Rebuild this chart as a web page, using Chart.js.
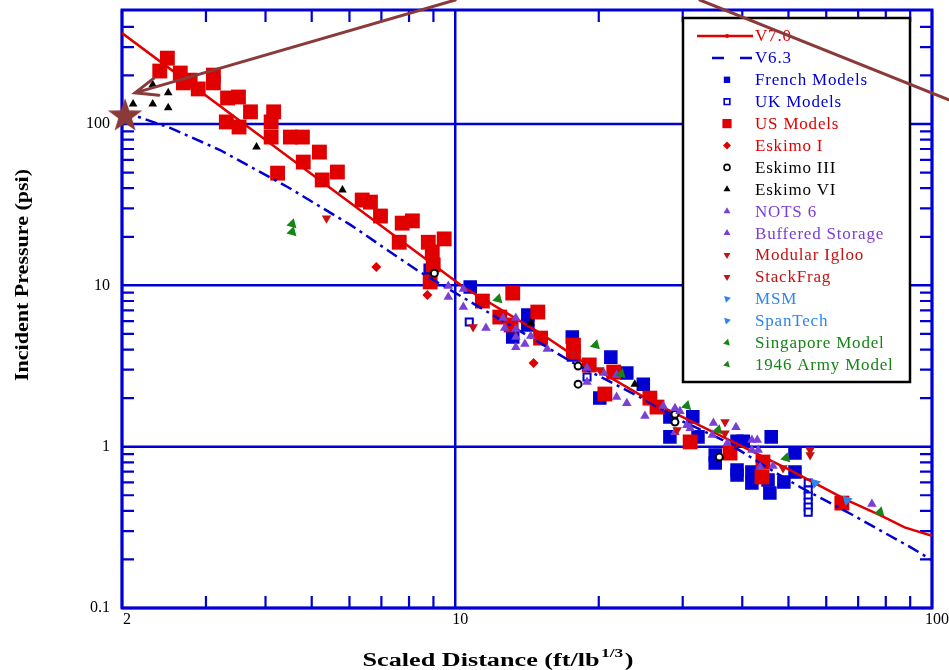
<!DOCTYPE html>
<html>
<head>
<meta charset="utf-8">
<script src="https://cdn.jsdelivr.net/npm/chart.js@4.4.1/dist/chart.umd.min.js"></script>
<style>
  html, body { margin: 0; padding: 0; background: #fff; }
  #wrap { width: 949px; height: 670px; }
</style>
</head>
<body>
<div id="wrap"><canvas id="chart" width="949" height="670"></canvas></div>
<script>
/* Axis labels */
const xLabels = [2, 10, 100];
const yLabels = [0.1, 1, 10, 100];
const xMinor = [3, 4, 5, 6, 7, 8, 9, 20, 30, 40, 50, 60, 70, 80, 90];
const yMinor = [0.2, 0.3, 0.4, 0.5, 0.6, 0.7, 0.8, 0.9, 2, 3, 4, 5, 6, 7, 8, 9,
                20, 30, 40, 50, 60, 70, 80, 90, 200, 300, 400, 500];

/* Curves [scaled distance, psi] */
const v70Line = [[2, 366], [3.59, 101], [6.03, 32.4], [10.4, 9.77], [15.07, 5.06], [18.3, 3.44],
  [26.1, 1.87], [35.2, 1.21], [50.4, 0.716], [66.3, 0.467], [77.8, 0.377], [87.6, 0.316], [100, 0.28]];
const v63Line = [[2.0, 120], [2.53, 94.4], [3.21, 69.0], [4.45, 40.7], [6.03, 23.7], [8.32, 12.4],
  [10.6, 8.11], [13.9, 5.06], [17.7, 3.30], [24.4, 2.03], [29.6, 1.46], [36.4, 1.10], [47.2, 0.685],
  [52.9, 0.562], [68.2, 0.377], [89.9, 0.239], [100, 0.198]];

/* Test data */
const frenchModels = [[8.86, 12.4], [10.75, 9.76], [14.2, 6.55], [14.2, 5.68], [13.2, 4.78], [17.6, 4.78],
  [17.7, 3.70], [21.2, 3.59], [22.9, 2.86], [24.8, 2.44], [20.1, 2.00], [28.2, 1.53], [31.5, 1.53],
  [28.2, 1.15], [32.3, 1.15], [39.0, 1.08], [40.2, 1.08], [46.0, 1.15], [35.1, 0.887], [35.1, 0.791],
  [39.0, 0.716], [39.0, 0.667], [41.9, 0.696], [41.9, 0.595], [45.3, 0.621], [45.7, 0.516],
  [48.9, 0.603], [51.6, 0.696], [51.6, 0.913]];
const ukModels = [[10.7, 5.92], [18.9, 2.70], [55.0, 0.595], [55.0, 0.538], [55.0, 0.494],
  [55.0, 0.453], [55.0, 0.422], [55.0, 0.393]];
const usModels = [[2.49, 256], [2.40, 213], [2.65, 207], [2.69, 180], [2.78, 187], [2.89, 165],
  [3.11, 201], [3.11, 180], [3.33, 145], [3.51, 147], [3.72, 119], [4.16, 119], [4.11, 103],
  [3.31, 103], [3.52, 95.8], [4.11, 83], [4.51, 83], [4.78, 83], [5.19, 67], [4.80, 58.1],
  [4.24, 49.6], [5.26, 45], [5.66, 50.4], [6.38, 33.8], [6.64, 32.8], [6.97, 26.9], [7.74, 24.3],
  [8.13, 25.1], [7.63, 18.5], [8.78, 18.5], [9.48, 19.4], [8.95, 16.1], [8.99, 13.4], [8.86, 10.5],
  [13.2, 8.96], [11.4, 7.99], [12.4, 6.36], [14.9, 6.83], [13.1, 5.68], [15.1, 4.71], [17.7, 4.26],
  [17.7, 3.86], [19.1, 3.21], [21.5, 2.90], [20.6, 2.12], [25.6, 2.00], [26.5, 1.76], [31.1, 1.07],
  [37.7, 0.913], [44.2, 0.803], [44.0, 0.649], [64.7, 0.447]];
const eskimo1 = [[6.83, 13.0], [8.74, 8.71], [14.6, 3.30]];
const eskimo3 = [[9.04, 11.9], [18.1, 3.16], [18.1, 2.44], [28.9, 1.59], [28.9, 1.42], [35.8, 0.862]];
const eskimo6 = [[2.11, 133], [2.32, 133], [2.50, 126], [2.50, 156], [2.32, 175], [3.83, 72.0],
  [5.80, 39.0], [14.4, 5.84], [23.8, 2.44]];
const nots6 = [[9.67, 9.90], [10.4, 9.48], [11.6, 5.44], [12.7, 5.44], [13.4, 5.36], [13.4, 4.14],
  [14.4, 4.85], [18.9, 3.07], [20.5, 2.86], [21.8, 2.03], [25.0, 1.55], [28.9, 1.73], [28.9, 1.23],
  [31.1, 1.30], [34.6, 1.18], [37.2, 1.05], [43.0, 1.10], [43.2, 0.953], [46.4, 0.758]];
const bufferedStorage = [[9.67, 8.46], [10.4, 7.34], [12.6, 6.27], [13.4, 6.27], [13.4, 4.78],
  [14.0, 4.33], [15.6, 4.03], [18.9, 2.52], [21.8, 2.78], [22.9, 1.86], [27.3, 1.79], [29.6, 1.66],
  [30.6, 1.36], [34.8, 1.40], [38.8, 1.32], [41.9, 1.10], [41.9, 0.953], [43.6, 0.747], [74.8, 0.441]];
const modularIgloo = [[5.37, 26.1], [10.9, 5.51], [17.7, 3.75], [20.1, 2.99], [29.2, 1.27]];
const stackFrag = [[36.8, 1.42], [36.8, 1.21], [48.7, 0.737], [55.5, 0.953], [55.5, 0.887]];
const msm = [[56.9, 0.595]];
const spanTech = [[66.3, 0.467]];
const singapore = [[4.55, 24.0], [12.3, 8.22], [22.3, 2.82], [35.6, 1.27], [77.8, 0.393]];
const army1946 = [[4.55, 21.4], [19.7, 4.26], [30.6, 1.79], [49.4, 0.850]];

/* Annotation (data coords) */
const starPoint = [[2.03, 112]];
const arrowTail = [10, 587], arrowTip = [2.13, 156];
const slashFrom = [32.6, 587], slashTo = [108.5, 141];

const BLUE = "#0000d2";
const RED = "#e00000";
const DARKRED = "#c81010";
const PURPLE = "#7a3fd6";
const LIGHTBLUE = "#2b86f0";
const GREEN = "#168416";
const BROWN = "#8b3a3a";
const SERIF = '"Liberation Serif", "Times New Roman", serif';

function pts(arr) {
  return arr.map(p => ({ x: p[0], y: p[1] }));
}

function markers(label, arr, style, color, radius, order, extra) {
  return Object.assign({
    label: label,
    data: pts(arr),
    showLine: false,
    pointStyle: style,
    pointRadius: radius,
    pointHoverRadius: radius,
    pointBackgroundColor: color,
    pointBorderColor: color,
    pointBorderWidth: 0,
    pointRotation: 0,
    order: order,
    textColor: color,
    legendRadius: Math.min(radius, 4.5)
  }, extra || {});
}

/* Star image */
function makeStar(r, color) {
  const c = document.createElement("canvas");
  c.width = c.height = Math.ceil(r * 2 + 2);
  const g = c.getContext("2d");
  g.fillStyle = color;
  g.beginPath();
  for (let i = 0; i < 10; i++) {
    const rr = i % 2 ? r * 0.4 : r;
    const ang = -Math.PI / 2 + i * Math.PI / 5;
    g.lineTo(c.width / 2 + rr * Math.cos(ang), c.height / 2 + rr * Math.sin(ang));
  }
  g.closePath();
  g.fill();
  return c;
}

const datasets = [
  {
    label: "V7.0", data: pts(v70Line), showLine: true, borderColor: RED, borderWidth: 2.5,
    pointRadius: 0, tension: 0, order: 6, textColor: RED, legendLine: []
  },
  {
    label: "V6.3", data: pts(v63Line), showLine: true, borderColor: BLUE, borderWidth: 2.5,
    borderDash: [12, 5, 3, 5], pointRadius: 0, tension: 0, order: 7, textColor: BLUE, legendLine: [12, 16]
  },
  markers("French Models", frenchModels, "rect", BLUE, 8.5, 10,
    { pointBorderWidth: 1.5, legendRadius: 4.5 }),
  markers("UK Models", ukModels, "rect", BLUE, 5, 9,
    { pointBackgroundColor: "#fff", pointBorderWidth: 2, legendRadius: 4 }),
  markers("US Models", usModels, "rect", RED, 10.5, 8, { legendRadius: 6.5 }),
  markers("Eskimo I", eskimo1, "rectRot", RED, 5, 5, { legendRadius: 4 }),
  markers("Eskimo III", eskimo3, "circle", "#000", 3.5, 4,
    { pointBackgroundColor: "#fff", pointBorderWidth: 2, legendRadius: 3 }),
  markers("Eskimo VI", eskimo6, "triangle", "#000", 5, 4, { legendRadius: 4 }),
  markers("NOTS 6", nots6, "triangle", PURPLE, 5.5, 3, { legendRadius: 4 }),
  markers("Buffered Storage", bufferedStorage, "triangle", PURPLE, 5.5, 3, { legendRadius: 4 }),
  markers("Modular Igloo", modularIgloo, "triangle", DARKRED, 5.5, 2,
    { pointRotation: 180, legendRadius: 4 }),
  markers("StackFrag", stackFrag, "triangle", DARKRED, 5.5, 2, { pointRotation: 180, legendRadius: 4 }),
  markers("MSM", msm, "triangle", LIGHTBLUE, 6, 2, { pointRotation: 75, legendRadius: 4 }),
  markers("SpanTech", spanTech, "triangle", LIGHTBLUE, 6, 2, { pointRotation: 75, legendRadius: 4 }),
  markers("Singapore Model", singapore, "triangle", GREEN, 6, 2, { pointRotation: 15, legendRadius: 4 }),
  markers("1946 Army Model", army1946, "triangle", GREEN, 6, 2, { pointRotation: 15, legendRadius: 4 }),
  {
    data: pts(starPoint), showLine: false, pointStyle: makeStar(18, BROWN), pointRadius: 18,
    order: 0, clip: false, noLegend: true
  }
];

function isDecade(v) {
  const l = Math.log10(v);
  return Math.abs(l - Math.round(l)) < 1e-6;
}

/* Frame, grid, inward ticks */
const framePlugin = {
  id: "frame",
  beforeDatasetsDraw(chart) {
    const { ctx, chartArea: a, scales: { x, y } } = chart;
    ctx.save();
    ctx.strokeStyle = BLUE;
    ctx.lineWidth = 2.5;
    ctx.beginPath();
    xLabels.forEach(v => {
      const px = x.getPixelForValue(v);
      ctx.moveTo(px, a.top); ctx.lineTo(px, a.bottom);
    });
    yLabels.forEach(v => {
      const py = y.getPixelForValue(v);
      ctx.moveTo(a.left, py); ctx.lineTo(a.right, py);
    });
    ctx.stroke();

    const tl = 12;
    ctx.lineWidth = 2.2;
    ctx.beginPath();
    xMinor.forEach(v => {
      const px = x.getPixelForValue(v);
      ctx.moveTo(px, a.bottom); ctx.lineTo(px, a.bottom - tl);
      ctx.moveTo(px, a.top); ctx.lineTo(px, a.top + tl);
    });
    yMinor.forEach(v => {
      const py = y.getPixelForValue(v);
      if (py < a.top + 2) return;
      ctx.moveTo(a.left, py); ctx.lineTo(a.left + tl, py);
      ctx.moveTo(a.right, py); ctx.lineTo(a.right - tl, py);
    });
    ctx.stroke();

    ctx.lineWidth = 3;
    ctx.strokeRect(a.left, a.top, a.right - a.left, a.bottom - a.top);
    ctx.restore();
  }
};

/* Legend box inside the plot */
const legendPlugin = {
  id: "boxLegend",
  afterDatasetsDraw(chart) {
    const ctx = chart.ctx;
    const bx = 683, by = 18, bw = 227, bh = 364;
    ctx.save();
    ctx.fillStyle = "#fff";
    ctx.fillRect(bx, by, bw, bh);
    ctx.strokeStyle = "#000";
    ctx.lineWidth = 2.5;
    ctx.strokeRect(bx, by, bw, bh);

    ctx.font = "17px " + SERIF;
    if ("letterSpacing" in ctx) ctx.letterSpacing = "0.8px";
    ctx.textBaseline = "middle";
    ctx.textAlign = "left";
    let rowY = 36;
    chart.data.datasets.forEach(d => {
      if (d.noLegend) return;
      if (d.legendLine) {
        ctx.strokeStyle = d.borderColor;
        ctx.lineWidth = 2.5;
        ctx.setLineDash(d.legendLine);
        ctx.lineDashOffset = d.legendLine.length ? -2 : 0;
        ctx.beginPath();
        ctx.moveTo(d.legendLine.length ? 710 : 697, rowY);
        ctx.lineTo(753, rowY);
        ctx.stroke();
        ctx.setLineDash([]);
        if (!d.legendLine.length) {
          ctx.fillStyle = d.borderColor;
          ctx.beginPath(); ctx.arc(727, rowY, 2, 0, Math.PI * 2); ctx.fill();
        }
      } else if (Chart.helpers && Chart.helpers.drawPoint) {
        ctx.fillStyle = d.pointBackgroundColor;
        ctx.strokeStyle = d.pointBorderColor;
        const bw2 = d.pointBackgroundColor === "#fff" ? 1.6 : 0;
        ctx.lineWidth = bw2;
        Chart.helpers.drawPoint(ctx, {
          pointStyle: d.pointStyle, radius: d.legendRadius,
          rotation: d.pointRotation || 0, borderWidth: bw2
        }, 727, rowY);
      }
      ctx.fillStyle = d.textColor;
      ctx.fillText(d.label, 755, rowY + 1);
      rowY += 21.9;
    });
    ctx.restore();
  }
};

/* Titles and arrows */
const overlayPlugin = {
  id: "overlay",
  afterDraw(chart) {
    const { ctx, scales: { x, y } } = chart;
    ctx.save();

    // x title with superscript
    const main = "Scaled Distance (ft/lb", sup = "1/3", close = ")";
    const fMain = "bold 18px " + SERIF, fSup = "bold 12px " + SERIF;
    ctx.font = fMain;
    const w1 = ctx.measureText(main).width, w3 = ctx.measureText(close).width;
    ctx.font = fSup;
    const w2 = ctx.measureText(sup).width + 2;
    const total = w1 + w2 + w3;
    const sx = 271 / total;
    ctx.translate(498, 666);
    ctx.scale(sx, 1);
    ctx.fillStyle = "#000";
    ctx.textBaseline = "alphabetic";
    ctx.textAlign = "left";
    let cx = -total / 2;
    ctx.font = fMain; ctx.fillText(main, cx, 0); cx += w1 + 1;
    ctx.font = fSup; ctx.fillText(sup, cx, -9); cx += w2 - 1;
    ctx.font = fMain; ctx.fillText(close, cx, 0);
    ctx.setTransform(1, 0, 0, 1, 0, 0);

    // y title
    const yt = "Incident Pressure (psi)";
    ctx.font = fMain;
    const wy = ctx.measureText(yt).width;
    ctx.translate(28, 275);
    ctx.rotate(-Math.PI / 2);
    ctx.scale(212 / wy, 1);
    ctx.textAlign = "center";
    ctx.fillText(yt, 0, 0);
    ctx.setTransform(1, 0, 0, 1, 0, 0);

    // brown arrows
    ctx.strokeStyle = BROWN;
    ctx.lineWidth = 3;
    ctx.lineCap = "round";
    const tx = x.getPixelForValue(arrowTail[0]), ty = y.getPixelForValue(arrowTail[1]);
    const hx = x.getPixelForValue(arrowTip[0]), hy = y.getPixelForValue(arrowTip[1]);
    const ang = Math.atan2(ty - hy, tx - hx);
    ctx.beginPath();
    ctx.moveTo(tx, ty); ctx.lineTo(hx, hy);
    ctx.moveTo(hx + 24 * Math.cos(ang - 0.38), hy + 24 * Math.sin(ang - 0.38));
    ctx.lineTo(hx, hy);
    ctx.lineTo(hx + 24 * Math.cos(ang + 0.38), hy + 24 * Math.sin(ang + 0.38));
    ctx.moveTo(x.getPixelForValue(slashFrom[0]), y.getPixelForValue(slashFrom[1]));
    ctx.lineTo(x.getPixelForValue(slashTo[0]), y.getPixelForValue(slashTo[1]));
    ctx.stroke();
    ctx.restore();
  }
};

new Chart(document.getElementById("chart"), {
  type: "scatter",
  data: { datasets: datasets },
  options: {
    responsive: false,
    animation: false,
    devicePixelRatio: 1,
    layout: { autoPadding: false, padding: { top: 10, right: 17, left: 0, bottom: 0 } },
    plugins: { legend: { display: false }, tooltip: { enabled: false } },
    scales: {
      x: {
        type: "logarithmic", min: 2, max: 100,
        grid: { display: false, drawTicks: false },
        border: { display: false },
        ticks: {
          autoSkip: false, maxRotation: 0, padding: 2, labelOffset: 5, color: "#000",
          font: { family: SERIF, size: 16 },
          callback: v => xLabels.some(l => Math.abs(l - v) < 1e-9) ? String(v) : ""
        },
        afterFit: s => { s.height = 62; s.paddingLeft = 0; s.paddingRight = 0; }
      },
      y: {
        type: "logarithmic", min: 0.1, max: 509,
        grid: { display: false, drawTicks: false },
        border: { display: false },
        ticks: {
          autoSkip: false, padding: 12, color: "#000",
          font: { family: SERIF, size: 16 },
          callback: v => (isDecade(v) && v <= 100) ? (v < 1 ? "0.1" : String(Math.round(v))) : ""
        },
        afterFit: s => { s.width = 122; s.paddingTop = 0; s.paddingBottom = 0; }
      }
    }
  },
  plugins: [framePlugin, legendPlugin, overlayPlugin]
});
</script>
</body>
</html>
